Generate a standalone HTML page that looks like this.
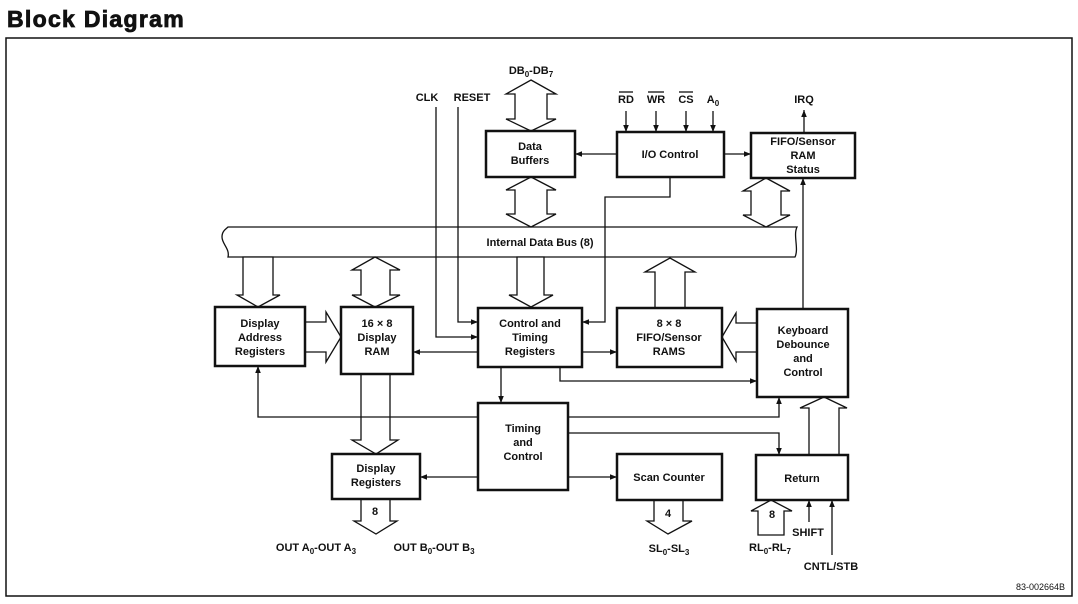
<!DOCTYPE html>
<html><head><meta charset="utf-8"><style>
html,body{margin:0;padding:0;background:#fff;}
svg{display:block;font-family:"Liberation Sans",Arial,sans-serif;}
.t{font-weight:bold;font-size:11px;fill:#111;text-anchor:middle;}
.b{fill:#fff;stroke:#111;stroke-width:2.5;}
.l{fill:none;stroke:#111;stroke-width:1.3;}
.h{fill:#fff;stroke:#111;stroke-width:1.3;stroke-linejoin:miter;}
</style></head><body>
<svg width="1078" height="604" viewBox="0 0 1078 604" xmlns="http://www.w3.org/2000/svg">
<defs>
<marker id="a" viewBox="0 0 10 10" refX="10" refY="5" markerWidth="7" markerHeight="7" orient="auto-start-reverse" markerUnits="userSpaceOnUse"><path d="M0,1 L10,5 L0,9 z" fill="#111"/></marker>
</defs>
<text x="7" y="27" style="font-weight:bold;font-size:23px;letter-spacing:1.3px;stroke:#111;stroke-width:0.8" fill="#111">Block Diagram</text>
<rect x="6" y="38" width="1066" height="558" fill="none" stroke="#111" stroke-width="1.5"/>

<!-- Internal bus -->
<path class="h" d="M228,227 L797,227 C793,235 799,249 795,257 L228,257 C230,249 222,244 222,237 C222,231 226,229 228,227 Z"/>
<text class="t" x="540" y="246">Internal Data Bus (8)</text>

<!-- DB double arrow -->
<polygon class="h" points="531,80 556,94 547,94 547,119 556,119 531,131 506,119 515,119 515,94 506,94"/>
<text class="t" x="531" y="74">DB<tspan font-size="8" dy="3">0</tspan><tspan dy="-3">-DB</tspan><tspan font-size="8" dy="3">7</tspan></text>
<polygon class="h" points="531,177 556,190 547,190 547,214 556,214 531,227 506,214 515,214 515,190 506,190"/>
<polygon class="h" points="766,178 790,191 781,191 781,215 790,215 766,227 743,215 751,215 751,191 743,191"/>
<polygon class="h" points="243,257 243,295 237,295 258,307 280,295 273,295 273,257"/>
<polygon class="h" points="375,257 400,270 390,270 390,295 400,295 375,307 352,295 361,295 361,270 352,270"/>
<polygon class="h" points="517,257 517,295 509,295 531,307 553,295 544,295 544,257"/>
<polygon class="h" points="655,308 655,272 645,272 670,258 695,272 685,272 685,308"/>
<polygon class="h" points="305,322 326,322 326,312 341,337 326,362 326,352 305,352"/>
<polygon class="h" points="757,323 736,323 736,313 722,337 736,361 736,352 757,352"/>
<polygon class="h" points="361,374 361,440 352,440 376,454 398,440 390,440 390,374"/>
<polygon class="h" points="361,499 361,521 354,521 376,534 397,521 390,521 390,499"/>
<text class="t" x="375" y="515">8</text>
<polygon class="h" points="654,500 654,521 647,521 668,534 692,521 683,521 683,500"/>
<text class="t" x="668" y="517">4</text>
<polygon class="h" points="809,455 809,408 800,408 824,397 847,408 839,408 839,455"/>
<polygon class="h" points="758,535 758,511 751,511 771,500 792,511 784,511 784,535"/>
<text class="t" x="772" y="518">8</text>

<!-- Boxes -->
<rect class="b" x="486" y="131" width="89" height="46"/>
<text class="t" x="530" y="150">Data</text><text class="t" x="530" y="164">Buffers</text>
<rect class="b" x="617" y="132" width="107" height="45"/>
<text class="t" x="670" y="158">I/O Control</text>
<rect class="b" x="751" y="133" width="104" height="45"/>
<text class="t" x="803" y="145">FIFO/Sensor</text><text class="t" x="803" y="159">RAM</text><text class="t" x="803" y="173">Status</text>
<rect class="b" x="215" y="307" width="90" height="59"/>
<text class="t" x="260" y="327">Display</text><text class="t" x="260" y="341">Address</text><text class="t" x="260" y="355">Registers</text>
<rect class="b" x="341" y="307" width="72" height="67"/>
<text class="t" x="377" y="327">16 × 8</text><text class="t" x="377" y="341">Display</text><text class="t" x="377" y="355">RAM</text>
<rect class="b" x="478" y="308" width="104" height="59"/>
<text class="t" x="530" y="327">Control and</text><text class="t" x="530" y="341">Timing</text><text class="t" x="530" y="355">Registers</text>
<rect class="b" x="617" y="308" width="105" height="59"/>
<text class="t" x="669" y="327">8 × 8</text><text class="t" x="669" y="341">FIFO/Sensor</text><text class="t" x="669" y="355">RAMS</text>
<rect class="b" x="757" y="309" width="91" height="88"/>
<text class="t" x="803" y="334">Keyboard</text><text class="t" x="803" y="348">Debounce</text><text class="t" x="803" y="362">and</text><text class="t" x="803" y="376">Control</text>
<rect class="b" x="478" y="403" width="90" height="87"/>
<text class="t" x="523" y="432">Timing</text><text class="t" x="523" y="446">and</text><text class="t" x="523" y="460">Control</text>
<rect class="b" x="332" y="454" width="88" height="45"/>
<text class="t" x="376" y="472">Display</text><text class="t" x="376" y="486">Registers</text>
<rect class="b" x="617" y="454" width="105" height="46"/>
<text class="t" x="669" y="481">Scan Counter</text>
<rect class="b" x="756" y="455" width="92" height="45"/>
<text class="t" x="802" y="482">Return</text>

<!-- Control signals -->
<text class="t" x="427" y="101">CLK</text>
<text class="t" x="472" y="101">RESET</text>
<polyline class="l" points="436,107 436,337 478,337" marker-end="url(#a)"/>
<polyline class="l" points="458,107 458,322 478,322" marker-end="url(#a)"/>

<text class="t" x="626" y="103">RD</text><line class="l" x1="619" y1="92" x2="633" y2="92"/>
<text class="t" x="656" y="103">WR</text><line class="l" x1="648" y1="92" x2="664" y2="92"/>
<text class="t" x="686" y="103">CS</text><line class="l" x1="679" y1="92" x2="693" y2="92"/>
<text class="t" x="713" y="103">A<tspan font-size="8" dy="3">0</tspan></text>
<line class="l" x1="626" y1="111" x2="626" y2="132" marker-end="url(#a)"/>
<line class="l" x1="656" y1="111" x2="656" y2="132" marker-end="url(#a)"/>
<line class="l" x1="686" y1="111" x2="686" y2="132" marker-end="url(#a)"/>
<line class="l" x1="713" y1="111" x2="713" y2="132" marker-end="url(#a)"/>
<text class="t" x="804" y="103">IRQ</text>
<line class="l" x1="804" y1="133" x2="804" y2="110" marker-end="url(#a)"/>
<line class="l" x1="617" y1="154" x2="575" y2="154" marker-end="url(#a)"/>
<line class="l" x1="724" y1="154" x2="751" y2="154" marker-end="url(#a)"/>
<polyline class="l" points="670,177 670,197 605,197 605,322 582,322" marker-end="url(#a)"/>
<line class="l" x1="803" y1="309" x2="803" y2="178" marker-end="url(#a)"/>

<line class="l" x1="478" y1="352" x2="413" y2="352" marker-end="url(#a)"/>
<line class="l" x1="582" y1="352" x2="617" y2="352" marker-end="url(#a)"/>
<polyline class="l" points="560,367 560,381 757,381" marker-end="url(#a)"/>
<line class="l" x1="501" y1="367" x2="501" y2="403" marker-end="url(#a)"/>
<polyline class="l" points="478,417 258,417 258,366" marker-end="url(#a)"/>
<polyline class="l" points="568,417 779,417 779,397" marker-end="url(#a)"/>
<polyline class="l" points="568,433 779,433 779,455" marker-end="url(#a)"/>
<line class="l" x1="478" y1="477" x2="420" y2="477" marker-end="url(#a)"/>
<line class="l" x1="568" y1="477" x2="617" y2="477" marker-end="url(#a)"/>

<line class="l" x1="809" y1="522" x2="809" y2="500" marker-end="url(#a)"/>
<line class="l" x1="832" y1="555" x2="832" y2="500" marker-end="url(#a)"/>
<text class="t" x="808" y="536">SHIFT</text>
<text class="t" x="831" y="570">CNTL/STB</text>
<text class="t" x="770" y="551">RL<tspan font-size="8" dy="3">0</tspan><tspan dy="-3">-RL</tspan><tspan font-size="8" dy="3">7</tspan></text>

<text class="t" x="316" y="551">OUT A<tspan font-size="8" dy="3">0</tspan><tspan dy="-3">-OUT A</tspan><tspan font-size="8" dy="3">3</tspan></text>
<text class="t" x="434" y="551">OUT B<tspan font-size="8" dy="3">0</tspan><tspan dy="-3">-OUT B</tspan><tspan font-size="8" dy="3">3</tspan></text>
<text class="t" x="669" y="552">SL<tspan font-size="8" dy="3">0</tspan><tspan dy="-3">-SL</tspan><tspan font-size="8" dy="3">3</tspan></text>
<text x="1065" y="590" style="font-size:9px;text-anchor:end" fill="#111">83-002664B</text>
</svg>
</body></html>
